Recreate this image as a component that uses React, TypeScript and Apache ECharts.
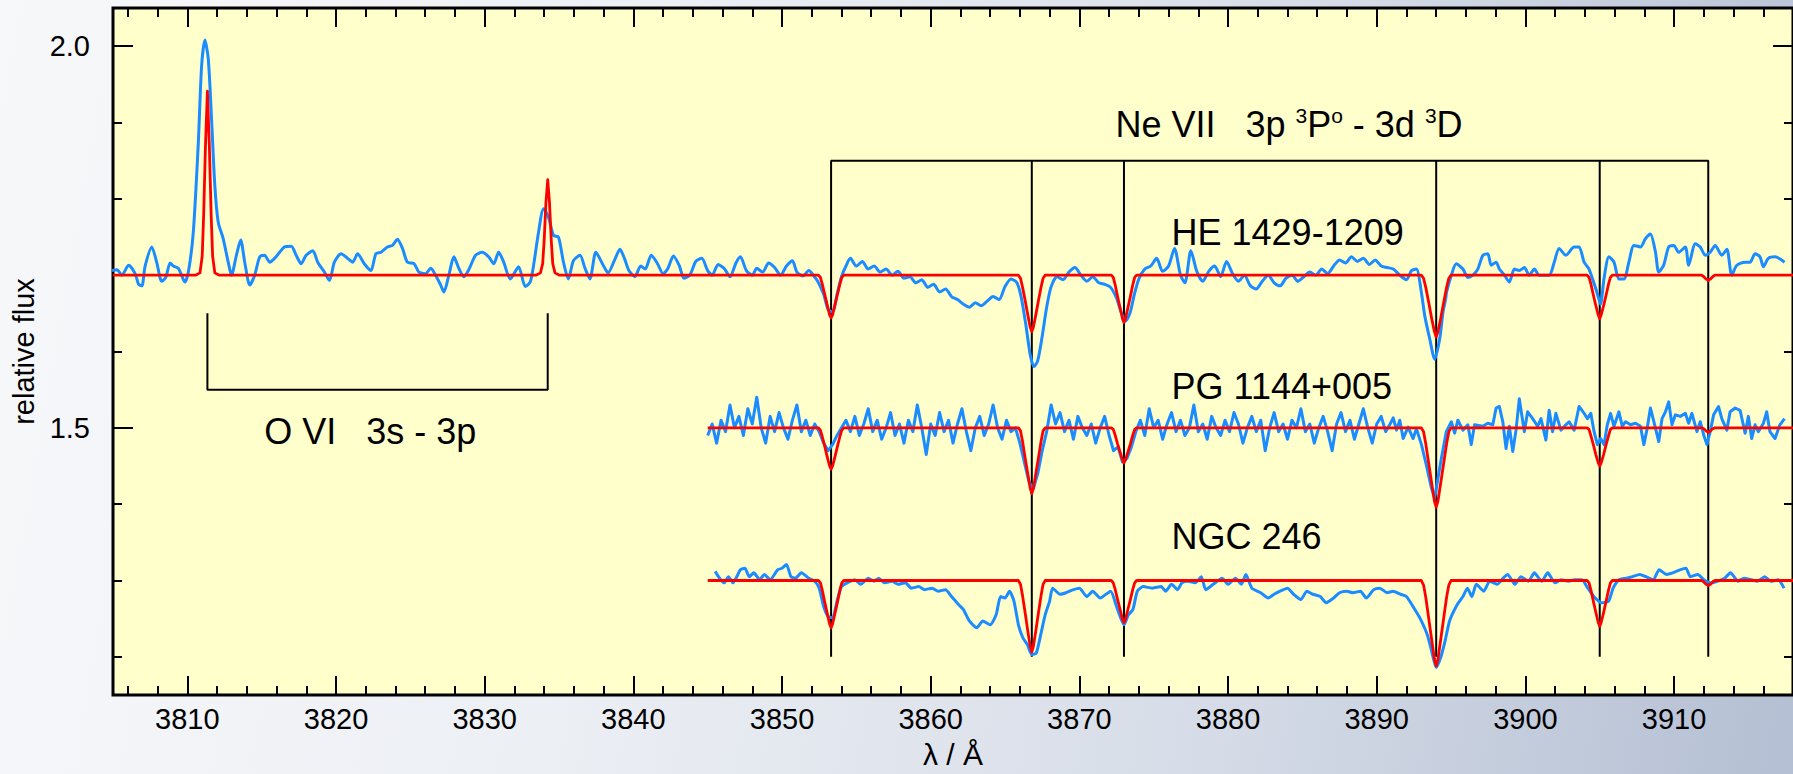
import React, { useEffect, useRef } from "react";
import * as echarts from "echarts";

// ---------- axis ticks ----------
const X_MAJOR = [3810, 3820, 3830, 3840, 3850, 3860, 3870, 3880, 3890, 3900, 3910];
const X_MINOR = [3806, 3808, 3812, 3814, 3816, 3818, 3822, 3824, 3826, 3828, 3832, 3834, 3836, 3838, 3842, 3844, 3846, 3848, 3852, 3854, 3856, 3858, 3862, 3864, 3866, 3868, 3872, 3874, 3876, 3878, 3882, 3884, 3886, 3888, 3892, 3894, 3896, 3898, 3902, 3904, 3906, 3908, 3912, 3914, 3916];
const Y_MAJOR = [1.5, 2.0];
const Y_MINOR = [1.2, 1.3, 1.4, 1.6, 1.7, 1.8, 1.9];

// ---------- line identifications ----------
const NE_LINES = [3853.3, 3866.8, 3873.0, 3894.0, 3905.0, 3912.3];
const NE_TOP = 1.85;
const NE_BOTTOM = 1.2;
const OVI_LINES = [3811.35, 3834.24];
const OVI_LOW = 1.55;
const OVI_HIGH = 1.65;

// ---------- observed spectra (wavelength, relative flux) ----------
const HE_OBS: number[][] = [
  [3804.93,1.706],[3805.27,1.707],[3805.6,1.700],[3806.05,1.713],[3806.49,1.702],[3806.72,1.688],[3806.94,1.686],[3807.16,1.712],[3807.61,1.737],[3807.95,1.716],[3808.28,1.692],[3808.55,1.697],[3808.84,1.716],[3809.05,1.712],[3809.4,1.709],[3809.84,1.691],[3810.07,1.704],[3810.4,1.756],[3810.74,1.874],[3810.96,1.974],[3811.18,2.008],[3811.41,1.983],[3811.63,1.904],[3811.85,1.817],[3812.08,1.769],[3812.41,1.748],[3812.75,1.717],[3812.97,1.700],[3813.3,1.726],[3813.59,1.746],[3813.86,1.717],[3814.2,1.687],[3814.53,1.700],[3814.87,1.724],[3815.2,1.726],[3815.54,1.717],[3815.87,1.722],[3816.21,1.730],[3816.54,1.737],[3816.99,1.738],[3817.32,1.726],[3817.66,1.715],[3817.99,1.726],[3818.44,1.732],[3818.77,1.717],[3819.22,1.704],[3819.56,1.693],[3819.89,1.717],[3820.34,1.728],[3820.78,1.722],[3821.12,1.717],[3821.45,1.728],[3821.9,1.715],[3822.35,1.706],[3822.68,1.728],[3823.02,1.730],[3823.46,1.737],[3823.8,1.739],[3824.13,1.747],[3824.47,1.735],[3824.8,1.717],[3825.25,1.715],[3825.58,1.704],[3826.03,1.702],[3826.37,1.709],[3826.7,1.700],[3827.04,1.687],[3827.26,1.678],[3827.59,1.700],[3827.93,1.724],[3828.26,1.709],[3828.6,1.698],[3828.93,1.707],[3829.38,1.726],[3829.83,1.730],[3830.27,1.724],[3830.61,1.715],[3830.94,1.730],[3831.28,1.717],[3831.72,1.695],[3832.28,1.711],[3832.73,1.685],[3833.06,1.691],[3833.29,1.713],[3833.62,1.756],[3833.96,1.787],[3834.29,1.776],[3834.63,1.752],[3834.96,1.750],[3835.3,1.717],[3835.63,1.695],[3835.97,1.719],[3836.41,1.726],[3836.75,1.709],[3837.08,1.695],[3837.48,1.730],
  [3838.0,1.712],[3838.3,1.703],[3838.7,1.718],[3839.1,1.734],[3839.4,1.722],[3839.7,1.706],[3840.1,1.698],[3840.5,1.712],[3840.8,1.708],[3841.2,1.726],[3841.6,1.716],[3842.0,1.702],[3842.3,1.708],[3842.7,1.725],[3843.1,1.712],[3843.4,1.696],[3843.8,1.700],[3844.2,1.718],[3844.6,1.722],[3845.0,1.706],[3845.3,1.700],[3845.7,1.714],[3846.1,1.709],[3846.5,1.698],[3846.9,1.716],[3847.2,1.724],[3847.6,1.706],[3848.0,1.700],[3848.3,1.709],[3848.7,1.704],[3849.1,1.716],[3849.5,1.710],[3849.9,1.700],[3850.3,1.712],[3850.7,1.719],[3851.0,1.704],[3851.4,1.699],[3851.8,1.706],[3852.1,1.700],[3852.4,1.692],[3852.8,1.675],[3853.1,1.655],[3853.4,1.652],[3853.7,1.675],[3854.0,1.698],[3854.3,1.712],[3854.6,1.722],[3855.0,1.712],[3855.4,1.718],[3855.8,1.708],[3856.2,1.712],[3856.6,1.704],[3857.0,1.708],[3857.4,1.700],[3857.8,1.705],[3858.2,1.696],[3858.6,1.698],[3859.0,1.690],[3859.4,1.694],[3859.8,1.684],[3860.2,1.688],[3860.6,1.678],[3861.0,1.682],[3861.4,1.672],[3861.8,1.668],[3862.2,1.662],[3862.6,1.658],[3863.0,1.664],[3863.4,1.660],[3863.8,1.666],[3864.2,1.672],[3864.6,1.668],[3865.0,1.685],[3865.4,1.695],[3865.8,1.690],[3866.1,1.670],[3866.4,1.635],[3866.7,1.595],[3866.95,1.580],[3867.2,1.588],[3867.5,1.620],[3867.8,1.658],[3868.1,1.685],[3868.5,1.698],[3868.9,1.694],[3869.3,1.704],[3869.7,1.710],[3870.1,1.700],[3870.5,1.692],[3870.9,1.698],[3871.3,1.690],[3871.7,1.688],[3872.1,1.684],[3872.5,1.670],[3872.8,1.652],[3873.1,1.640],[3873.4,1.650],[3873.7,1.675],[3874.0,1.695],[3874.4,1.708],[3874.8,1.712],[3875.2,1.722],[3875.6,1.705],[3876.0,1.712],[3876.4,1.735],[3876.8,1.700],[3877.1,1.690],[3877.5,1.732],[3877.9,1.705],[3878.3,1.692],[3878.7,1.705],[3879.1,1.712],[3879.5,1.698],[3879.9,1.718],[3880.3,1.702],[3880.7,1.692],[3881.1,1.700],[3881.5,1.686],[3881.9,1.682],[3882.3,1.692],[3882.7,1.700],[3883.1,1.690],[3883.5,1.686],[3883.9,1.696],[3884.3,1.700],[3884.7,1.692],[3885.1,1.698],[3885.5,1.704],[3885.9,1.700],[3886.3,1.708],[3886.7,1.702],[3887.1,1.712],[3887.5,1.720],[3887.9,1.716],[3888.3,1.724],[3888.7,1.718],[3889.1,1.722],[3889.5,1.714],[3889.9,1.720],[3890.3,1.712],[3890.7,1.710],
  [3891.11,1.708],[3891.55,1.700],[3892.0,1.694],[3892.34,1.706],[3892.67,1.708],[3893.0,1.678],[3893.23,1.647],[3893.56,1.617],[3893.9,1.590],[3894.24,1.617],[3894.46,1.652],[3894.64,1.669],[3894.7,1.678],[3895.02,1.700],[3895.35,1.715],[3895.8,1.708],[3896.13,1.697],[3896.47,1.700],[3896.8,1.708],[3897.14,1.726],[3897.47,1.728],[3897.7,1.713],[3898.03,1.717],[3898.25,1.708],[3898.59,1.700],[3898.92,1.691],[3899.26,1.708],[3899.59,1.706],[3899.93,1.710],[3900.26,1.700],[3900.6,1.708],[3900.93,1.700],[3901.6,1.700],[3901.94,1.717],[3902.27,1.735],[3902.72,1.726],[3903.28,1.737],[3903.61,1.737],[3903.95,1.717],[3904.28,1.708],[3904.62,1.689],[3904.85,1.675],[3905.05,1.662],[3905.3,1.697],[3905.62,1.724],[3905.96,1.717],[3906.29,1.695],[3906.63,1.695],[3906.96,1.717],[3907.3,1.739],[3907.74,1.737],[3908.08,1.748],[3908.41,1.754],[3908.75,1.730],[3908.97,1.704],[3909.3,1.713],[3909.64,1.737],[3909.98,1.739],[3910.31,1.730],[3910.76,1.737],[3910.98,1.713],[3911.43,1.741],[3911.76,1.737],[3912.1,1.726],[3912.43,1.730],[3912.77,1.739],[3913.21,1.726],[3913.55,1.734],[3913.88,1.700],[3914.22,1.713],[3914.78,1.717],[3915.11,1.717],[3915.45,1.728],[3915.78,1.724],[3916.01,1.711],[3916.34,1.722],[3916.79,1.724],[3917.43,1.717]
];

const PG_OBS: number[][] = [
  [3845.0,1.490],[3845.3,1.505],[3845.6,1.480],[3845.9,1.510],[3846.2,1.495],[3846.5,1.530],[3846.8,1.500],[3847.1,1.515],[3847.4,1.490],[3847.7,1.525],[3848.0,1.505],[3848.3,1.540],[3848.6,1.500],[3848.9,1.480],[3849.2,1.515],[3849.5,1.495],[3849.8,1.520],[3850.1,1.500],[3850.4,1.485],[3850.7,1.510],[3851.0,1.530],[3851.3,1.495],[3851.6,1.510],[3851.9,1.490],[3852.2,1.505],[3852.5,1.495],[3852.8,1.480],[3853.1,1.470],[3853.4,1.478],[3853.7,1.490],[3854.0,1.500],[3854.3,1.510],[3854.6,1.495],[3854.9,1.515],[3855.2,1.490],[3855.5,1.505],[3855.8,1.525],[3856.1,1.495],[3856.4,1.510],[3856.7,1.485],[3857.0,1.500],[3857.3,1.520],[3857.6,1.490],[3857.9,1.505],[3858.2,1.480],[3858.5,1.510],[3858.8,1.495],[3859.1,1.530],[3859.4,1.500],[3859.7,1.465],[3860.0,1.505],[3860.3,1.490],[3860.6,1.520],[3860.9,1.495],[3861.2,1.510],[3861.5,1.480],[3861.8,1.505],[3862.1,1.525],[3862.4,1.495],[3862.7,1.470],[3863.0,1.500],[3863.3,1.515],[3863.6,1.490],[3863.9,1.505],[3864.2,1.530],[3864.5,1.500],[3864.8,1.485],[3865.1,1.510],[3865.4,1.495],[3865.7,1.500],[3866.0,1.480],[3866.3,1.455],[3866.6,1.430],[3866.9,1.420],[3867.2,1.440],[3867.5,1.470],[3867.8,1.495],[3868.1,1.530],[3868.4,1.505],[3868.7,1.520],[3869.0,1.495],[3869.3,1.510],[3869.6,1.485],[3869.9,1.515],[3870.2,1.500],[3870.5,1.490],[3870.8,1.505],[3871.1,1.480],[3871.4,1.500],[3871.7,1.515],[3872.0,1.490],[3872.3,1.470],[3872.6,1.475],[3872.9,1.455],[3873.2,1.460],[3873.5,1.475],[3873.8,1.495],[3874.1,1.510],[3874.4,1.490],[3874.7,1.525],[3875.0,1.500],[3875.3,1.510],[3875.6,1.485],[3875.9,1.505],[3876.2,1.520],[3876.5,1.495],[3876.8,1.510],[3877.1,1.490],[3877.4,1.500],[3877.7,1.530],[3878.0,1.495],[3878.3,1.505],[3878.6,1.485],[3878.9,1.515],[3879.2,1.500],[3879.5,1.490],[3879.8,1.510],[3880.1,1.495],[3880.4,1.520],[3880.7,1.505],[3881.0,1.480],[3881.3,1.500],[3881.6,1.515],[3881.9,1.495],[3882.2,1.510],[3882.5,1.470],[3882.8,1.500],[3883.1,1.520],[3883.4,1.495],[3883.7,1.505],[3884.0,1.485],[3884.3,1.510],[3884.6,1.500],[3884.9,1.525],[3885.2,1.495],[3885.5,1.505],[3885.8,1.480],[3886.1,1.500],[3886.4,1.515],[3886.7,1.495],[3887.0,1.470],[3887.3,1.505],[3887.6,1.520],[3887.9,1.495],[3888.2,1.510],[3888.5,1.485],[3888.8,1.505],[3889.1,1.525],[3889.4,1.500],[3889.7,1.480],[3890.0,1.505],[3890.3,1.515],[3890.6,1.495],[3890.9,1.505],
  [3891.11,1.513],[3891.33,1.497],[3891.55,1.510],[3891.78,1.486],[3892.11,1.501],[3892.45,1.486],[3892.67,1.499],[3893.01,1.478],[3893.34,1.451],[3893.68,1.421],[3893.9,1.408],[3894.12,1.434],[3894.35,1.460],[3894.68,1.495],[3895.02,1.508],[3895.24,1.493],[3895.46,1.510],[3895.8,1.497],[3896.13,1.504],[3896.36,1.478],[3896.58,1.504],[3897.14,1.502],[3897.47,1.506],[3897.81,1.504],[3898.03,1.526],[3898.25,1.528],[3898.48,1.508],[3898.7,1.473],[3898.92,1.502],[3899.15,1.469],[3899.37,1.497],[3899.59,1.538],[3899.93,1.495],[3900.15,1.521],[3900.49,1.512],[3900.82,1.502],[3901.05,1.512],[3901.38,1.484],[3901.6,1.523],[3901.83,1.495],[3902.05,1.519],[3902.39,1.497],[3902.72,1.504],[3902.94,1.508],[3903.28,1.497],[3903.61,1.528],[3903.95,1.519],[3904.17,1.512],[3904.4,1.519],[3904.62,1.495],[3904.84,1.478],[3905.06,1.486],[3905.29,1.478],[3905.51,1.504],[3905.73,1.519],[3905.96,1.502],[3906.29,1.521],[3906.52,1.502],[3906.74,1.508],[3907.07,1.504],[3907.41,1.506],[3907.74,1.502],[3907.97,1.478],[3908.19,1.499],[3908.41,1.526],[3908.64,1.508],[3908.97,1.482],[3909.19,1.512],[3909.42,1.521],[3909.64,1.534],[3909.86,1.504],[3910.09,1.517],[3910.42,1.515],[3910.76,1.519],[3910.98,1.506],[3911.2,1.519],[3911.54,1.495],[3911.76,1.508],[3911.99,1.491],[3912.21,1.478],[3912.43,1.495],[3912.66,1.517],[3912.99,1.528],[3913.21,1.512],[3913.55,1.497],[3913.77,1.521],[3914.11,1.526],[3914.44,1.523],[3914.78,1.493],[3915.0,1.515],[3915.22,1.486],[3915.45,1.504],[3915.67,1.495],[3916.01,1.506],[3916.23,1.521],[3916.45,1.495],[3916.79,1.486],[3917.12,1.504],[3917.43,1.512]
];

const NGC_OBS: number[][] = [
  [3845.5,1.312],[3845.8,1.303],[3846.1,1.297],[3846.4,1.305],[3846.7,1.297],[3847.2,1.314],[3847.5,1.316],[3847.8,1.305],[3848.1,1.310],[3848.5,1.301],[3848.8,1.308],[3849.2,1.301],[3849.7,1.314],[3850.0,1.316],[3850.3,1.321],[3850.6,1.305],[3850.9,1.303],[3851.3,1.310],[3851.8,1.303],[3852.2,1.299],[3852.5,1.290],[3852.8,1.266],[3853.1,1.253],[3853.4,1.251],[3853.7,1.273],[3854.0,1.292],[3854.4,1.297],[3854.9,1.301],[3855.3,1.295],[3855.8,1.303],[3856.2,1.299],[3856.5,1.303],[3856.9,1.297],[3857.4,1.299],[3857.8,1.295],[3858.3,1.297],[3858.7,1.290],[3859.2,1.292],[3859.6,1.288],[3860.1,1.290],[3860.5,1.286],[3861.0,1.288],[3861.4,1.279],[3861.9,1.268],[3862.2,1.262],[3862.6,1.247],[3863.1,1.238],[3863.5,1.247],[3864.0,1.242],[3864.4,1.255],[3864.7,1.279],[3865.0,1.277],[3865.3,1.286],[3865.6,1.273],[3865.9,1.242],[3866.2,1.225],[3866.5,1.216],[3866.8,1.203],[3867.1,1.205],[3867.4,1.229],[3867.7,1.255],[3868.0,1.273],[3868.2,1.290],[3868.7,1.282],[3869.1,1.284],[3869.6,1.288],[3870.0,1.290],[3870.5,1.279],[3870.9,1.286],
  [3871.4,1.277],[3872.1,1.286],[3872.5,1.266],[3873.0,1.242],[3873.3,1.255],[3873.6,1.262],[3873.9,1.286],[3874.3,1.292],[3874.9,1.290],[3875.5,1.292],[3875.8,1.286],[3876.2,1.295],[3876.6,1.288],[3876.9,1.297],[3877.3,1.299],[3877.8,1.297],[3878.2,1.305],[3878.5,1.288],[3879.0,1.295],[3879.6,1.303],[3880.0,1.295],[3880.5,1.303],[3880.9,1.295],[3881.2,1.308],[3881.6,1.290],[3882.2,1.284],[3882.7,1.277],[3883.1,1.282],[3883.5,1.286],[3884.0,1.290],[3884.4,1.282],[3884.9,1.275],[3885.3,1.286],[3885.7,1.282],[3886.2,1.279],[3886.6,1.271],[3887.1,1.277],[3887.5,1.284],[3888.0,1.286],[3888.4,1.284],[3888.9,1.286],[3889.3,1.277],[3889.8,1.288],[3890.2,1.290],[3890.7,1.284],[3891.1,1.286],[3891.6,1.282],[3892.0,1.279],[3892.5,1.264],[3892.9,1.251],[3893.4,1.229],[3893.7,1.207],[3894.0,1.186],[3894.3,1.199],[3894.6,1.221],[3894.9,1.247],[3895.4,1.268],[3895.8,1.279],[3896.1,1.290],[3896.4,1.279],[3896.7,1.295],[3897.2,1.286],[3897.6,1.299],[3898.1,1.295],[3898.5,1.303],[3898.8,1.308],[3899.3,1.295],[3899.7,1.305],[3900.2,1.299],[3900.6,1.310],[3901.1,1.299],[3901.5,1.310],[3902.0,1.297],[3902.4,1.301],[3902.9,1.299],[3903.3,1.301],[3903.8,1.301],[3904.2,1.290],[3904.7,1.277],[3905.1,1.271],[3905.6,1.273],[3905.9,1.290],[3906.3,1.301],[3906.8,1.303],[3907.2,1.305],[3907.7,1.308],[3908.1,1.305],[3908.6,1.301],[3909.0,1.314],[3909.5,1.308],[3909.9,1.310],[3910.4,1.314],[3910.8,1.316],[3911.1,1.305],[3911.6,1.308],[3912.0,1.301],[3912.5,1.297],[3912.9,1.299],[3913.4,1.303],[3913.8,1.310],[3914.3,1.299],[3914.7,1.303],[3915.2,1.301],[3915.6,1.299],[3916.1,1.305],[3916.5,1.299],[3917.0,1.301],[3917.4,1.290]
];

// ---------- model spectra ----------
const MODEL_END = 3918;
const HE_CONT = 1.70;
const PG_CONT = 1.50;
const NGC_CONT = 1.30;
const HE_START = 3805;
const PG_START = 3845.0;
const NGC_START = 3845.0;

const OVI_3811_X = [3810.55, 3810.85, 3811.0, 3811.1, 3811.22, 3811.35, 3811.48, 3811.6, 3811.7, 3811.85, 3812.15];
const HE_3811 = [1.700, 1.703, 1.725, 1.780, 1.870, 1.941, 1.870, 1.780, 1.725, 1.703, 1.700];
const OVI_3834_X = [3833.45, 3833.75, 3833.9, 3834.0, 3834.12, 3834.24, 3834.36, 3834.48, 3834.58, 3834.73, 3835.03];
const HE_3834 = [1.700, 1.703, 1.715, 1.745, 1.795, 1.825, 1.795, 1.745, 1.715, 1.703, 1.700];

const LINE_3853_X = [3852.45, 3852.58, 3852.7, 3852.87, 3853.04, 3853.2, 3853.3, 3853.4, 3853.56, 3853.73, 3853.9, 3854.02, 3854.15];
const LINE_3867_X = [3865.9, 3866.04, 3866.17, 3866.35, 3866.53, 3866.69, 3866.8, 3866.91, 3867.07, 3867.25, 3867.43, 3867.56, 3867.7];
const LINE_3873_X = [3872.15, 3872.28, 3872.4, 3872.57, 3872.74, 3872.9, 3873.0, 3873.1, 3873.26, 3873.43, 3873.6, 3873.72, 3873.85];
const LINE_3894_X = [3893.0, 3893.15, 3893.3, 3893.5, 3893.7, 3893.88, 3894.0, 3894.12, 3894.3, 3894.5, 3894.7, 3894.85, 3895.0];
const LINE_3905_X = [3904.15, 3904.28, 3904.4, 3904.57, 3904.74, 3904.9, 3905.0, 3905.1, 3905.26, 3905.43, 3905.6, 3905.72, 3905.85];
const LINE_3912_X = [3911.7, 3911.85, 3911.95, 3912.05, 3912.15, 3912.25, 3912.3, 3912.35, 3912.45, 3912.55, 3912.65, 3912.75, 3912.9];

const HE_3853 = [1.700, 1.697, 1.689, 1.675, 1.661, 1.648, 1.644, 1.648, 1.661, 1.675, 1.689, 1.697, 1.700];
const HE_3867 = [1.700, 1.696, 1.685, 1.667, 1.648, 1.632, 1.626, 1.632, 1.648, 1.667, 1.685, 1.696, 1.700];
const HE_3873 = [1.700, 1.697, 1.688, 1.672, 1.657, 1.643, 1.638, 1.643, 1.657, 1.672, 1.688, 1.697, 1.700];
const HE_3894 = [1.700, 1.696, 1.684, 1.664, 1.643, 1.626, 1.619, 1.626, 1.643, 1.664, 1.684, 1.696, 1.700];
const HE_3905 = [1.700, 1.697, 1.689, 1.674, 1.660, 1.648, 1.643, 1.648, 1.660, 1.674, 1.689, 1.697, 1.700];
const HE_3912 = [1.700, 1.700, 1.699, 1.697, 1.695, 1.694, 1.693, 1.694, 1.695, 1.697, 1.699, 1.700, 1.700];

const PG_3853 = [1.500, 1.497, 1.489, 1.476, 1.462, 1.450, 1.446, 1.450, 1.462, 1.476, 1.489, 1.497, 1.500];
const PG_3867 = [1.500, 1.496, 1.483, 1.461, 1.440, 1.421, 1.414, 1.421, 1.440, 1.461, 1.483, 1.496, 1.500];
const PG_3873 = [1.500, 1.498, 1.491, 1.479, 1.468, 1.458, 1.454, 1.458, 1.468, 1.479, 1.491, 1.498, 1.500];
const PG_3894 = [1.500, 1.495, 1.479, 1.453, 1.427, 1.404, 1.396, 1.404, 1.427, 1.453, 1.479, 1.495, 1.500];
const PG_3905 = [1.500, 1.498, 1.490, 1.478, 1.465, 1.454, 1.450, 1.454, 1.465, 1.478, 1.490, 1.498, 1.500];
const PG_3912 = [1.500, 1.500, 1.499, 1.498, 1.496, 1.495, 1.494, 1.495, 1.496, 1.498, 1.499, 1.500, 1.500];

const NGC_3853 = [1.300, 1.297, 1.288, 1.272, 1.257, 1.243, 1.238, 1.243, 1.257, 1.272, 1.288, 1.297, 1.300];
const NGC_3867 = [1.300, 1.295, 1.281, 1.258, 1.234, 1.214, 1.206, 1.214, 1.234, 1.258, 1.281, 1.295, 1.300];
const NGC_3873 = [1.300, 1.297, 1.289, 1.275, 1.262, 1.249, 1.245, 1.249, 1.262, 1.275, 1.289, 1.297, 1.300];
const NGC_3894 = [1.300, 1.294, 1.278, 1.250, 1.222, 1.197, 1.188, 1.197, 1.222, 1.250, 1.278, 1.294, 1.300];
const NGC_3905 = [1.300, 1.297, 1.288, 1.273, 1.258, 1.245, 1.240, 1.245, 1.258, 1.273, 1.288, 1.297, 1.300];
const NGC_3912 = [1.300, 1.300, 1.299, 1.297, 1.295, 1.294, 1.293, 1.294, 1.295, 1.297, 1.299, 1.300, 1.300];

// ---------- annotation texts ----------
const TXT_NE = "{n|Ne VII\u00a0\u00a0\u00a03p\u00a0}{s|3}{n|P}{s|o}{n|\u00a0-\u00a03d\u00a0}{s|3}{n|D}";
const TXT_HE = "HE 1429-1209";
const TXT_PG = "PG 1144+005";
const TXT_NGC = "NGC 246";
const TXT_OVI = "O VI\u00a0\u00a0\u00a03s - 3p";

const POS_NE = [3884.1, 1.897];
const POS_HE = [3876.2, 1.756];
const POS_PG = [3876.2, 1.554];
const POS_NGC = [3876.2, 1.357];
const POS_OVI = [3822.3, 1.495];

const BLUE = "#1a8cff";
const RED = "#ff0000";

function zip(xs: number[], ys: number[]) {
  return xs.map((x, i) => [x, ys[i]]);
}

function model(start: number, cont: number, parts: number[][][]) {
  const pts: number[][] = [[start, cont]];
  parts.forEach((p) => p.forEach((q) => pts.push(q)));
  pts.push([MODEL_END, cont]);
  return pts;
}

export default function App() {
  const ref = useRef<HTMLDivElement>(null);

  useEffect(() => {
    document.body.style.margin = "0";
    if (!ref.current) return;
    const chart = echarts.init(ref.current, undefined, { renderer: "svg" });

    const heModel = model(HE_START, HE_CONT, [
      zip(OVI_3811_X, HE_3811), zip(OVI_3834_X, HE_3834),
      zip(LINE_3853_X, HE_3853), zip(LINE_3867_X, HE_3867), zip(LINE_3873_X, HE_3873),
      zip(LINE_3894_X, HE_3894), zip(LINE_3905_X, HE_3905), zip(LINE_3912_X, HE_3912),
    ]);
    const pgModel = model(PG_START, PG_CONT, [
      zip(LINE_3853_X, PG_3853), zip(LINE_3867_X, PG_3867), zip(LINE_3873_X, PG_3873),
      zip(LINE_3894_X, PG_3894), zip(LINE_3905_X, PG_3905), zip(LINE_3912_X, PG_3912),
    ]);
    const ngcModel = model(NGC_START, NGC_CONT, [
      zip(LINE_3853_X, NGC_3853), zip(LINE_3867_X, NGC_3867), zip(LINE_3873_X, NGC_3873),
      zip(LINE_3894_X, NGC_3894), zip(LINE_3905_X, NGC_3905), zip(LINE_3912_X, NGC_3912),
    ]);

    const black = (data: number[][]) => ({
      type: "line", data, symbol: "none", silent: true, z: 2,
      lineStyle: { color: "#000", width: 2 },
    });
    const spec = (data: number[][], color: string, width: number, z: number, smooth: number | boolean) => ({
      type: "line", data, symbol: "none", silent: true, z, smooth,
      lineStyle: { color, width, join: "round" },
    });

    const neFirst = NE_LINES[0];
    const neLast = NE_LINES[NE_LINES.length - 1];
    const series: any[] = [
      black([[neFirst, NE_BOTTOM], [neFirst, NE_TOP], [neLast, NE_TOP], [neLast, NE_BOTTOM]]),
      ...NE_LINES.slice(1, -1).map((x) => black([[x, NE_BOTTOM], [x, NE_TOP]])),
      black([[OVI_LINES[0], OVI_HIGH], [OVI_LINES[0], OVI_LOW], [OVI_LINES[1], OVI_LOW], [OVI_LINES[1], OVI_HIGH]]),
      spec(HE_OBS, BLUE, 3, 3, 0.25),
      spec(PG_OBS, BLUE, 3, 3, false),
      spec(NGC_OBS, BLUE, 3, 3, 0.2),
      spec(heModel, RED, 2.8, 4, false),
      spec(pgModel, RED, 2.8, 4, false),
      spec(ngcModel, RED, 2.8, 4, false),
    ];

    const tickFont = { fontSize: 29, color: "#000", fontFamily: "Liberation Sans" };
    const xBase = { type: "value", min: 3805, max: 3918, splitLine: { show: false }, axisLine: { show: false } };
    const yBase = { type: "value", min: 1.15, max: 2.05, splitLine: { show: false }, axisLine: { show: false } };
    const tick = (vals: number[], len: number) => ({
      show: true, inside: true, length: len, customValues: vals, lineStyle: { color: "#000", width: 2 },
    });

    const option: any = {
      animation: false,
      backgroundColor: "transparent",
      grid: {
        left: 113, top: 8, width: 1687, height: 689, show: true,
        backgroundColor: "#ffffcc", borderColor: "#000", borderWidth: 3,
      },
      xAxis: [
        {
          ...xBase, position: "bottom", axisTick: tick(X_MAJOR, 19),
          axisLabel: { ...tickFont, customValues: X_MAJOR, margin: 9, formatter: (v: number) => String(v) },
          name: "λ / Å", nameLocation: "middle", nameGap: 44,
          nameTextStyle: { fontSize: 30, color: "#000", fontFamily: "Liberation Sans" },
        },
        { ...xBase, position: "bottom", axisTick: tick(X_MINOR, 9), axisLabel: { show: false } },
        { ...xBase, position: "top", axisTick: tick(X_MAJOR, 19), axisLabel: { show: false } },
        { ...xBase, position: "top", axisTick: tick(X_MINOR, 9), axisLabel: { show: false } },
      ],
      yAxis: [
        {
          ...yBase, position: "left", axisTick: tick(Y_MAJOR, 20),
          axisLabel: { ...tickFont, customValues: Y_MAJOR, margin: 23, formatter: (v: number) => v.toFixed(1) },
          name: "relative flux", nameLocation: "middle", nameGap: 73, nameRotate: 90,
          nameTextStyle: { fontSize: 29, color: "#000", fontFamily: "Liberation Sans" },
        },
        { ...yBase, position: "left", axisTick: tick(Y_MINOR, 9), axisLabel: { show: false } },
        { ...yBase, position: "right", axisTick: tick(Y_MAJOR, 20), axisLabel: { show: false } },
        { ...yBase, position: "right", axisTick: tick(Y_MINOR, 9), axisLabel: { show: false } },
      ],
      series,
    };
    chart.setOption(option);

    const px = (p: number[]) => chart.convertToPixel({ xAxisIndex: 0, yAxisIndex: 0 }, p) as number[];
    const font = "Liberation Sans";
    const txt = (text: string, pos: number[], align: string, extra: any = {}) => {
      const [x, y] = px(pos);
      return {
        type: "text", x, y, z: 10, silent: true,
        style: {
          text, fill: "#000", fontSize: 36, fontFamily: font,
          align, verticalAlign: "middle", ...extra,
        },
      };
    };
    chart.setOption({
      graphic: [
        txt(TXT_NE, POS_NE, "center", {
          rich: {
            n: { fontSize: 36, fontFamily: font, fill: "#000", lineHeight: 40 },
            s: { fontSize: 21, fontFamily: font, fill: "#000", lineHeight: 40, verticalAlign: "top" },
          },
        }),
        txt(TXT_HE, POS_HE, "left"),
        txt(TXT_PG, POS_PG, "left"),
        txt(TXT_NGC, POS_NGC, "left"),
        txt(TXT_OVI, POS_OVI, "center"),
      ],
    });

    return () => chart.dispose();
  }, []);

  return (
    <div
      ref={ref}
      style={{
        position: "absolute", left: 0, top: 0, width: 1793, height: 774,
        background: "linear-gradient(100deg, #f7f8fa 0%, #eceff4 35%, #d7dde8 68%, #b4bfd3 100%)",
      }}
    />
  );
}
